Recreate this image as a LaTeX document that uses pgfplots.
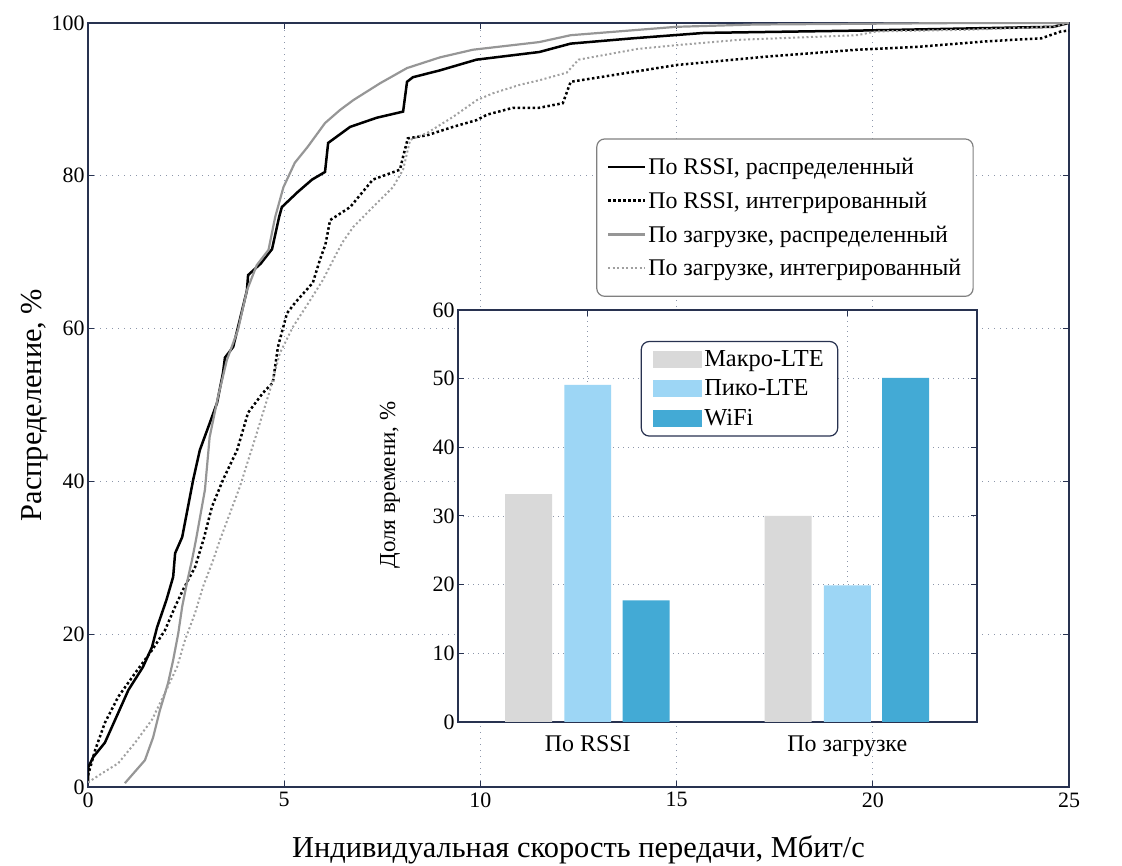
\documentclass[border=0pt]{standalone}
\usepackage{pgfplots}
\pgfplotsset{compat=1.18}
\usepackage{fontspec}
\setmainfont{Liberation Serif}

\definecolor{axiscol}{RGB}{40,50,80}
\definecolor{gridcol}{RGB}{140,150,170}
\definecolor{macro}{RGB}{217,217,217}
\definecolor{piko}{RGB}{157,214,245}
\definecolor{wifi}{RGB}{67,170,213}
\definecolor{grayA}{RGB}{150,150,150}
\definecolor{grayB}{RGB}{160,160,160}

\begin{document}
\begin{tikzpicture}[x=1bp,y=1bp]
\useasboundingbox (0,0) rectangle (1122,866);

\begin{axis}[
  at={(88bp,79bp)}, anchor=south west,
  width=981bp, height=764bp, scale only axis,
  xmin=0, xmax=25, ymin=0, ymax=100,
  xtick={0,5,...,25}, ytick={0,20,...,100},
  axis line style={axiscol, line width=1.2bp},
  tick style={axiscol, line width=1bp},
  tick align=inside, major tick length=6bp,
  grid=major, grid style={gridcol, line width=0.9bp, dash pattern=on 1bp off 5bp},
  /pgf/number format/assume math mode=true,
  tick label style={font=\fontsize{22}{24}\selectfont},
  xticklabel style={yshift=-2bp},
  xlabel={Индивидуальная скорость передачи, Мбит/с},
  ylabel={Распределение, \%},
  label style={font=\fontsize{30.5}{33}\selectfont},
  xlabel style={at={(axis description cs:0.5,-0.0825)}, anchor=center},
  ylabel style={at={(axis description cs:-0.054,0.5)}, anchor=center},
  legend style={at={(axis description cs:0.518,0.849)}, anchor=north west,
    draw=gray, fill=white, rounded corners=8bp, line width=1.2bp,
    font=\fontsize{24}{26}\selectfont, inner xsep=10bp, inner ysep=17bp,
    row sep=12bp, cells={anchor=west}},
  legend image code/.code={\draw[sharp corners, #1] (0bp,0bp) -- (37bp,0bp);},
]
\addplot[black, line width=2.5bp] coordinates {
(0,0.5) (0,2.5) (0.13,3.9) (0.43,5.8) (0.77,9.7) (1.03,12.7) (1.4,15.7) (1.63,18.3)
(1.76,20.9) (2.0,24.5) (2.17,27.5) (2.22,30.6) (2.4,32.7) (2.68,40.2) (2.85,44.1)
(3.1,47.6) (3.29,50.3) (3.44,54.2) (3.49,56.2) (3.7,57.6) (4.05,65) (4.08,67) (4.4,68.5)
(4.69,70.4) (4.87,74.6) (4.94,75.9) (5.35,77.9) (5.71,79.5) (6.04,80.5) (6.12,84.3)
(6.68,86.4) (7.36,87.6) (8.03,88.4) (8.13,92.3) (8.28,92.9) (8.97,93.8) (9.9,95.2)
(11.5,96.2) (12.3,97.3) (13.9,98.0) (15.7,98.7) (19.6,99.0) (24.6,99.5) (25,100)};
\addlegendentry{По RSSI, распределенный}

\addplot[black, line width=2.5bp, dash pattern=on 2.5bp off 2.5bp] coordinates {
(0,1.5) (0.18,4.8) (0.43,8.4) (0.77,11.8) (1.2,14.9) (1.63,17.9) (1.96,20.5) (2.22,23.6)
(2.42,25.8) (2.73,28.8) (2.95,32.5) (3.16,36.7) (3.44,40.2) (3.8,44.1) (4.08,49)
(4.46,51.6) (4.71,52.9) (4.84,57.6) (5.07,62) (5.28,63.4) (5.73,66) (5.91,69) (6.05,71)
(6.17,74.2) (6.68,75.9) (7.26,79.5) (7.95,80.8) (8.03,82.5) (8.15,84.9) (8.64,85.3)
(9.3,86.4) (9.91,87.3) (10.17,88) (10.83,88.9) (11.5,88.9) (12.1,89.5) (12.3,92.3)
(13.9,93.6) (15,94.5) (17.3,95.6) (19.6,96.5) (21.2,96.9) (22.9,97.6) (24.3,98)
(24.8,98.9) (25,99)};
\addlegendentry{По RSSI, интегрированный}

\addplot[grayA, line width=2.2bp] coordinates {
(0.94,0.5) (1.45,3.5) (1.66,6.5) (1.83,10) (2.04,13.6) (2.17,16.6) (2.3,20.1) (2.4,23.6)
(2.52,26.7) (2.65,29.7) (2.75,32.3) (2.98,38.9) (3.1,45.8) (3.31,51) (3.54,55.9)
(3.82,59.8) (4.05,65) (4.3,68.3) (4.6,70.3) (4.77,74.6) (4.98,78.5) (5.27,81.7)
(5.6,83.8) (6.04,86.9) (6.42,88.6) (6.76,89.9) (7.44,92.1) (8.13,94.1) (8.97,95.5)
(9.81,96.5) (11.5,97.5) (12.3,98.4) (15,99.5) (17,99.8) (22.5,100) (25,100)};
\addlegendentry{По загрузке, распределенный}

\addplot[grayB, line width=2bp, dash pattern=on 2bp off 2.5bp] coordinates {
(0,0.6) (0.36,1.8) (0.77,3.1) (1.2,5.8) (1.63,8.8) (1.96,12.3) (2.27,15.7) (2.47,19.2)
(2.73,22.8) (2.93,26.2) (3.19,29.7) (3.36,32.3) (3.87,39.3) (4.3,46.3) (4.64,52)
(4.89,56.8) (5.22,60.2) (5.66,63.7) (5.99,66.4) (6.34,69.9) (6.5,71.4) (6.76,73.3)
(7.26,75.9) (7.77,78.5) (8.03,80.8) (8.21,84.7) (8.64,85.6) (9.3,87.7) (9.91,89.9)
(10.32,90.8) (11,91.9) (11.5,92.5) (12.2,93.5) (12.5,95.2) (14,96.6) (15,97.1)
(16.6,97.8) (19.6,98.4) (20.1,98.9) (22.3,99.1) (24.6,99.5) (25,100)};
\addlegendentry{По загрузке, интегрированный}
\end{axis}

\begin{axis}[
  at={(458bp,144bp)}, anchor=south west,
  width=519bp, height=412bp, scale only axis,
  axis background/.style={fill=white},
  xmin=-0.5, xmax=1.5, ymin=0, ymax=60,
  xtick={0,1}, xticklabels={По RSSI, По загрузке},
  ytick={0,10,...,60},
  axis line style={axiscol, line width=1.2bp},
  tick style={axiscol, line width=1bp},
  tick align=inside, major tick length=6bp,
  grid=major, grid style={gridcol, line width=0.9bp, dash pattern=on 1bp off 4bp},
  /pgf/number format/assume math mode=true,
  tick label style={font=\fontsize{22}{24}\selectfont},
  xticklabel style={yshift=-10bp, font=\fontsize{24}{26}\selectfont},
  ylabel={Доля времени, \%},
  ylabel style={font=\fontsize{23}{25}\selectfont, at={(axis description cs:-0.131,0.575)}, anchor=center},
  legend style={at={(axis description cs:0.352,0.925)}, anchor=north west,
    draw=axiscol, fill=white, rounded corners=8bp, line width=1.2bp,
    font=\fontsize{24.5}{26}\selectfont, inner xsep=12bp, inner ysep=7bp,
    row sep=8bp, cells={anchor=west}},
  legend image code/.code={\path[sharp corners, #1] (0bp,-8.5bp) rectangle (49bp,8.5bp);},
]
\addplot[ybar, bar width=0.181, bar shift=-0.228, fill=macro, draw=none] coordinates {(0,33.2) (1,30.0)};
\addlegendentry{Макро-LTE}
\addplot[ybar, bar width=0.181, bar shift=0, fill=piko, draw=none] coordinates {(0,49.1) (1,19.9)};
\addlegendentry{Пико-LTE}
\addplot[ybar, bar width=0.181, bar shift=0.225, fill=wifi, draw=none] coordinates {(0,17.7) (1,50.1)};
\addlegendentry{WiFi}
\end{axis}
\end{tikzpicture}
\end{document}
